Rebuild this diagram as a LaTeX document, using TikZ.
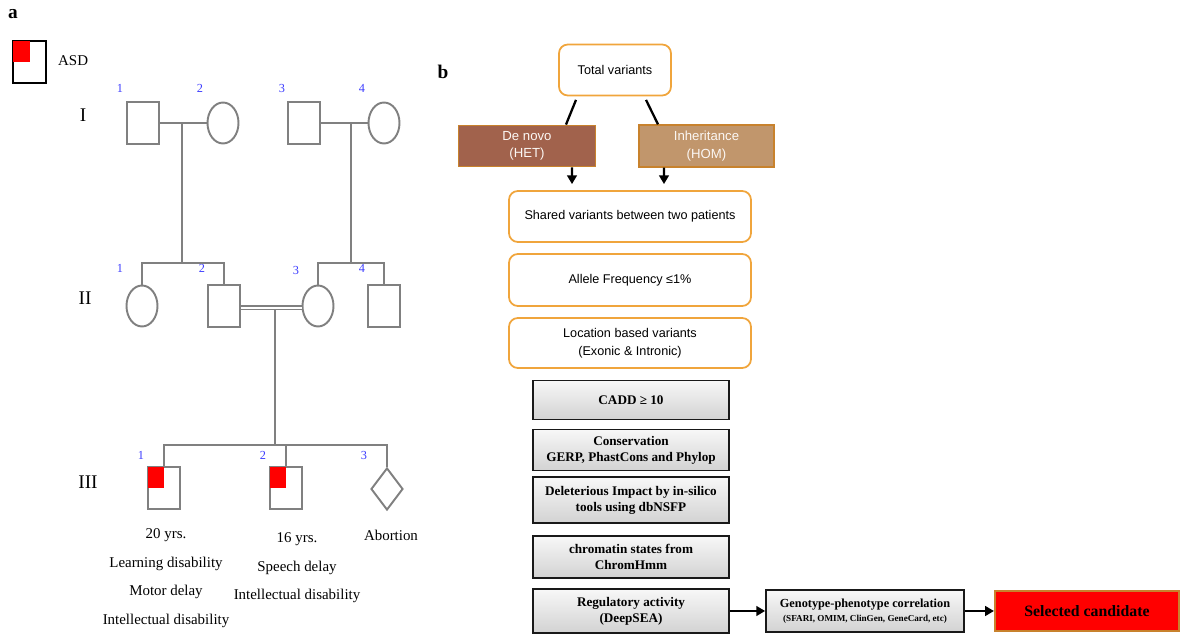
\documentclass[tikz,border=0pt]{standalone}
\usepackage{fontspec}
\setmainfont{Liberation Serif}
\setsansfont{Liberation Sans}
\usetikzlibrary{shapes.geometric,arrows.meta}
\definecolor{pedgray}{RGB}{128,128,128}
\definecolor{numblue}{RGB}{60,60,255}
\definecolor{boxorange}{RGB}{240,165,60}
\definecolor{hetbrown}{RGB}{161,98,76}
\definecolor{homtan}{RGB}{193,150,108}
\definecolor{edgebrown}{RGB}{200,130,45}
\definecolor{selred}{RGB}{255,0,0}

\begin{document}
\begin{tikzpicture}[x=0.02cm,y=-0.02cm,
    ped/.style={draw=pedgray,line width=1.1pt},
    male/.style={ped,rectangle,minimum width=0.64cm,minimum height=0.84cm,inner sep=0pt},
    female/.style={ped,ellipse,minimum width=0.62cm,minimum height=0.82cm,inner sep=0pt},
    lost/.style={ped,diamond,minimum width=0.64cm,minimum height=0.84cm,inner sep=0pt},
    num/.style={text=numblue,font=\fontsize{7}{8}\selectfont},
    gen/.style={font=\fontsize{11}{12}\selectfont},
    pheno/.style={align=center,inner sep=0pt,anchor=north,font=\fontsize{8.5}{16.4}\selectfont},
    obox/.style={draw=boxorange,line width=1pt,rounded corners=5pt,align=center,
      font=\sffamily\fontsize{7.2}{10}\selectfont,inner sep=1pt},
    tbox/.style={draw=edgebrown,line width=1pt,align=center,text=white!94!brown,
      font=\sffamily\fontsize{7.5}{10}\selectfont,minimum height=0.78cm},
    gbox/.style={draw=gray!20!black,line width=1pt,top color=gray!6,bottom color=gray!35,
      align=center,font=\bfseries\fontsize{7.5}{9}\selectfont,minimum width=3.92cm},
    link/.style={line width=1.3pt},
    arr/.style={-{Triangle[length=5pt,width=5.5pt]},line width=1.3pt}]

  \useasboundingbox (0,0) rectangle (1181,634);

  %% panel a: pedigree
  \begin{scope}
    \node[font=\bfseries\fontsize{11}{12}\selectfont] (lbla) at (13,14) {a};
    \node[draw=black,line width=1.2pt,minimum width=0.66cm,minimum height=0.84cm,inner sep=0pt] (key) at (29.5,62) {};
    \fill[selred] ([xshift=0.6pt,yshift=-0.6pt]key.north west) rectangle (key.center);
    \node[font=\fontsize{8.5}{10}\selectfont,anchor=west] (keytxt) at (52,61) {ASD};

    \node[gen] (g1) at (83,115) {I};
    \node[gen] (g2) at (85,298) {II};
    \node[gen] (g3) at (88,482) {III};

    % generation I
    \node[male] (i1) at (143,123) {};
    \node[female] (i2) at (223,123) {};
    \node[male] (i3) at (304,123) {};
    \node[female] (i4) at (384,123) {};
    \draw (120,88) node[num] {1} (200,88) node[num] {2} (282,88) node[num] {3} (362,88) node[num] {4};
    \draw[ped] (i1) -- (i2);
    \draw[ped] (i3) -- (i4);
    \coordinate (m1) at (182,123);
    \coordinate (m2) at (351,123);
    \coordinate (s1) at (182,263);
    \coordinate (s2) at (351,263);
    \draw[ped] (m1) -- (s1);
    \draw[ped] (m2) -- (s2);

    % generation II
    \node[female] (ii1) at (142,306) {};
    \node[male] (ii2) at (224,306) {};
    \node[female] (ii3) at (318,306) {};
    \node[male] (ii4) at (384,306) {};
    \draw (120,268) node[num] {1} (202,268) node[num] {2} (296,270) node[num] {3} (362,268) node[num] {4};
    \draw[ped] (ii1.north) -- (ii1.north |- s1) -- (ii2.north |- s1) -- (ii2.north);
    \draw[ped] (ii3.north) -- (ii3.north |- s2) -- (ii4.north |- s2) -- (ii4.north);
    \draw[draw=pedgray,line width=0.9pt,double=white,double distance=1.1pt]
      ([yshift=-1.1pt]ii2.east) -- ([yshift=-1.1pt]ii3.west);
    \coordinate (m3) at (275,310);
    \coordinate (s3) at (275,445);
    \draw[ped] (m3) -- (s3);

    % generation III
    \node[male] (iii1) at (164,488) {};
    \node[male] (iii2) at (286,488) {};
    \node[lost] (iii3) at (387,489) {};
    \fill[selred] ([xshift=0.6pt,yshift=-0.6pt]iii1.north west) rectangle (iii1.center);
    \fill[selred] ([xshift=0.6pt,yshift=-0.6pt]iii2.north west) rectangle (iii2.center);
    \draw (141,455) node[num] {1} (263,455) node[num] {2} (364,455) node[num] {3};
    \draw[ped] (iii1.north) -- (iii1.north |- s3) -- (iii3.north |- s3) -- (iii3.north);
    \draw[ped] (iii2.north) -- (iii2.north |- s3);

    \node[pheno] (p1) at (166,528) {20 yrs.\\Learning disability\\Motor delay\\Intellectual disability};
    \node[pheno] (p2) at (297,532) {16 yrs.\\Speech delay\\Intellectual disability};
    \node[pheno] (p3) at (391,530) {Abortion};
  \end{scope}

  %% panel b: variant filtering
  \begin{scope}
    \node[font=\bfseries\fontsize{11}{12}\selectfont] (lblb) at (443,72) {b};

    \node[obox,minimum width=2.24cm,minimum height=1.02cm] (tot) at (615,70) {Total variants};
    \node[tbox,fill=hetbrown,minimum width=2.74cm] (het) at (527,146) {De novo\\(HET)};
    \node[tbox,fill=homtan,minimum width=2.7cm] (hom) at (706.5,146) {Inheritance\\(HOM)};
    \draw[link] ([xshift=-0.78cm,yshift=-2pt]tot.south) -- ([xshift=0.78cm]het.north);
    \draw[link] ([xshift=0.62cm,yshift=-2pt]tot.south) -- ([xshift=-0.97cm]hom.north);

    \node[obox,minimum width=4.84cm,minimum height=1.02cm] (shared) at (630,216.5) {Shared variants between two patients};
    \draw[arr] ([xshift=0.9cm]het.south) -- ([xshift=-1.16cm,yshift=0.12cm]shared.north);
    \draw[arr] ([xshift=-0.85cm]hom.south) -- ([xshift=0.68cm,yshift=0.12cm]shared.north);

    \node[obox,minimum width=4.84cm,minimum height=1.04cm] (freq) at (630,280) {Allele Frequency ≤1\%};
    \node[obox,minimum width=4.84cm,minimum height=1.0cm] (loc) at (630,343) {Location based variants\\(Exonic \& Intronic)};

    \node[gbox,minimum height=0.78cm] (cadd) at (631,400) {CADD ≥ 10};
    \node[gbox,minimum height=0.82cm] (cons) at (631,450) {Conservation\\GERP, PhastCons and Phylop};
    \node[gbox,minimum height=0.92cm] (dele) at (631,500) {Deleterious Impact by in-silico\\tools using dbNSFP};
    \node[gbox,minimum height=0.84cm] (chrom) at (631,557) {chromatin states from\\ChromHmm};
    \node[gbox,minimum height=0.88cm] (reg) at (631,611) {Regulatory activity\\(DeepSEA)};

    \node[gbox,minimum width=3.96cm,minimum height=0.84cm,font=\bfseries\fontsize{7}{8}\selectfont] (geno) at (865,611)
      {Genotype-phenotype correlation\\{\fontsize{5.2}{7}\selectfont (SFARI, OMIM, ClinGen, GeneCard, etc)}};
    \node[draw=edgebrown,line width=1.2pt,fill=selred,minimum width=3.68cm,minimum height=0.8cm,
      font=\bfseries\fontsize{9}{10}\selectfont] (sel) at (1087,611) {Selected candidate};
    \draw[arr] (reg.east) -- (geno.west);
    \draw[arr] (geno.east) -- (sel.west);
  \end{scope}
\end{tikzpicture}
\end{document}
